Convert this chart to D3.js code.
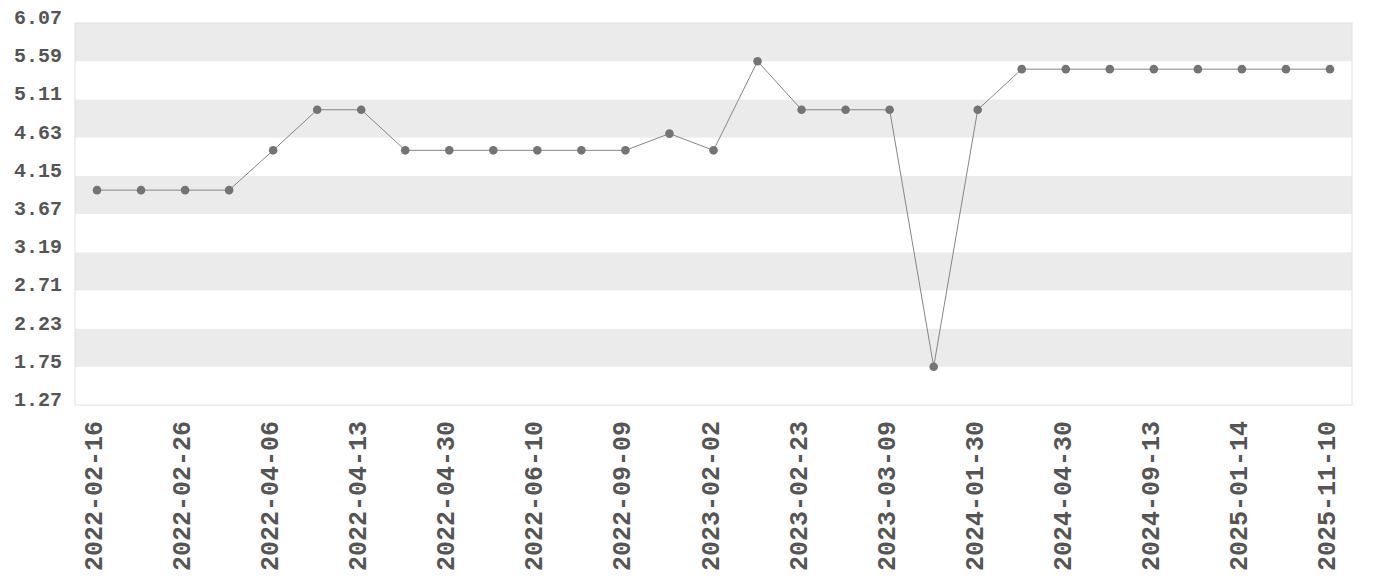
<!DOCTYPE html>
<html>
<head>
<meta charset="utf-8">
<script src="https://cdn.jsdelivr.net/npm/d3@7"></script>
<style>
  body { margin: 0; background: #fff; }
  text { font-family: "Liberation Mono", monospace; font-weight: bold; fill: #555; }
</style>
</head>
<body>
<div id="viz"></div>
<script>
// data
var dates = ["2022-02-16", "2022-02-21", "2022-02-26", "2022-03-18", "2022-04-06", "2022-04-09",
             "2022-04-13", "2022-04-21", "2022-04-30", "2022-05-20", "2022-06-10", "2022-07-25",
             "2022-09-09", "2022-11-20", "2023-02-02", "2023-02-12", "2023-02-23", "2023-03-02",
             "2023-03-09", "2023-08-15", "2024-01-30", "2024-03-15", "2024-04-30", "2024-07-01",
             "2024-09-13", "2024-11-20", "2025-01-14", "2025-06-10", "2025-11-10"];
var values = [3.97, 3.97, 3.97, 3.97, 4.47, 4.98,
              4.98, 4.47, 4.47, 4.47, 4.47, 4.47,
              4.47, 4.68, 4.47, 5.59, 4.98, 4.98,
              4.98, 1.75, 4.98, 5.49, 5.49, 5.49,
              5.49, 5.49, 5.49, 5.49, 5.49];
var yTicks = [1.27, 1.75, 2.23, 2.71, 3.19, 3.67, 4.15, 4.63, 5.11, 5.59, 6.07];

var w = 1380;
var h = 580;
var margin = {top: 23, bottom: 175, left: 75, right: 28};
var width = w - margin.left - margin.right;
var height = h - margin.top - margin.bottom;

var svg = d3.select("#viz")
            .append("svg")
            .attr("width", w)
            .attr("height", h)
            .append("g")
            .attr("transform", "translate(" + margin.left + "," + margin.top + ")");

var x = d3.scalePoint()
          .domain(dates)
          .range([0, width])
          .padding(0.5);

var y = d3.scaleLinear()
          .domain([yTicks[0], yTicks[yTicks.length - 1]])
          .range([height, 0]);

// alternating bands, grey from the top
var bands = d3.range(yTicks.length - 1);
svg.selectAll("rect.band")
   .data(bands)
   .enter()
   .append("rect")
   .attr("class", "band")
   .attr("x", 0)
   .attr("width", width)
   .attr("y", function(i){ return y(yTicks[i + 1]); })
   .attr("height", function(i){ return y(yTicks[i]) - y(yTicks[i + 1]); })
   .style("fill", function(i){ return (bands.length - 1 - i) % 2 == 0 ? "#ebebeb" : "#fff"; });

// frame
svg.append("rect")
   .attr("width", width)
   .attr("height", height)
   .style("fill", "none")
   .style("stroke", "#e0e0e0")
   .style("stroke-width", 1);

// y axis labels
svg.selectAll("text.ylab")
   .data(yTicks)
   .enter()
   .append("text")
   .attr("class", "ylab")
   .attr("x", -13)
   .attr("y", function(d){ return y(d) + 1; })
   .attr("text-anchor", "end")
   .style("font-size", "20px")
   .text(function(d){ return d.toFixed(2); });

// x axis labels, every other date
svg.selectAll("text.xlab")
   .data(dates.filter(function(d, i){ return i % 2 == 0; }))
   .enter()
   .append("text")
   .attr("class", "xlab")
   .attr("transform", function(d){ return "translate(" + x(d) + "," + (height + 16) + ") rotate(-90)"; })
   .attr("x", 0)
   .attr("y", 5)
   .attr("text-anchor", "end")
   .style("font-size", "25px")
   .text(function(d){ return d; });

var line = d3.line()
             .x(function(d, i){ return x(dates[i]); })
             .y(function(d){ return y(d); });

svg.append("path")
   .datum(values)
   .attr("d", line)
   .style("fill", "none")
   .style("stroke", "#858585")
   .style("stroke-width", 1);

svg.selectAll("circle")
   .data(values)
   .enter()
   .append("circle")
   .attr("cx", function(d, i){ return x(dates[i]); })
   .attr("cy", function(d){ return y(d); })
   .attr("r", 4.3)
   .style("fill", "#747474");
</script>
</body>
</html>
